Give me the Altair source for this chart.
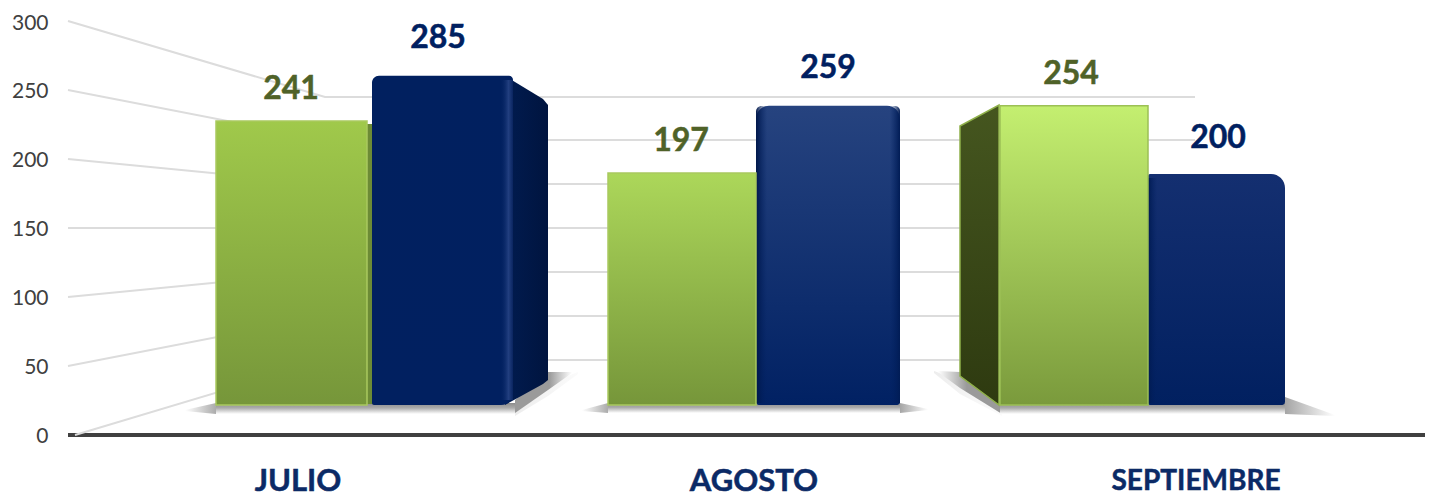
import altair as alt
import pandas as pd

# ---- chart values -------------------------------------------------------
MONTHS = ["JULIO", "AGOSTO", "SEPTIEMBRE"]
GREEN_VALUES = [241, 197, 254]
BLUE_VALUES = [285, 259, 200]
Y_TICKS = [0, 50, 100, 150, 200, 250, 300]
MONTH_CENTRES = [298, 754, 1196]
MONTH_SIZES = [31, 31, 28]

# ---- horizontal extents of the bars on the hidden x scale ---------------
GREEN_X0 = [216, 608, 1000]
GREEN_X1 = [367, 756, 1148]
BLUE_X0 = [372, 756, 1148]
BLUE_X1 = [513, 900, 1285]
GREEN_LABEL_X = [291, 681, 1071]
BLUE_LABEL_X = [438, 828, 1218]

GREEN_TOP = ["#A0C94B", "#ACD75A", "#C4EF70"]
GREEN_BOTTOM = ["#76963A", "#76963A", "#7A9A3C"]
GREEN_STROKE = ["#A9C95F", "#A9C95F", "#9CC055"]
BLUE_TOP = ["#01205F", "#26437F", "#142F70"]
BLUE_BOTTOM = ["#012060", "#012163", "#012060"]

# ---- decoration: perspective grid, floor shadows, side faces -------------
GRID_LEFT = [(75, 435), (68, 366), (68, 297), (68, 228), (68, 159), (68, 90), (68, 21)]
GRID_BACK = [360, 316, 272, 228, 184, 140, 97]
GRID_BEND_X = 325
GRID_END_X = 1195

SHADOWS = [
    # soft outer halos
    ([515, 548, 578], [405, 384, 372], [416, 396, 374], "halo"),
    ([934, 960, 1002], [371, 380, 405], [373, 394, 416], "halo"),
    # bands below the bars
    ([185, 216], [410, 403], [411, 414], "l"),
    ([216, 515], [403, 403], [414, 414], "v"),
    ([515, 548, 572], [400, 372, 372], [413, 390, 373], "r"),
    ([582, 608], [410, 403], [411, 413], "l"),
    ([608, 900], [403, 403], [413, 413], "v"),
    ([900, 928], [403, 409], [413, 410], "r2"),
    ([938, 960, 1002], [371, 372, 403], [372, 388, 414], "lm"),
    ([1000, 1285], [403, 403], [414, 414], "v"),
    ([1285, 1335], [397, 415], [414, 416], "r2"),
]
FACE_RIGHT_X = [505, 543, 548]
FACE_RIGHT_TOP = [76, 99, 105]
FACE_RIGHT_BOT = [405, 384, 380]
FACE_LEFT_X = [960, 999]
FACE_LEFT_TOP = [126, 105]
FACE_LEFT_BOT = [376, 405]

XS = alt.Scale(domain=[68, 1425], nice=False, zero=False)
PX = alt.Scale(domain=[435, 22], nice=False, zero=False)
VALUE = alt.Scale(domain=[0, 300], nice=False)
GREEN_SCALE = alt.Scale(domain=[-25.47, 325.1], nice=False, zero=False)
BLUE_SCALE = alt.Scale(domain=[-25.97, 331.6], nice=False, zero=False)


def grad(stops, vertical=True):
    d = dict(x1=0, x2=0, y1=0, y2=1) if vertical else dict(x1=0, x2=1, y1=0, y2=0)
    return alt.Gradient(gradient="linear",
                        stops=[alt.GradientStop(offset=o, color=c) for o, c in stops], **d)


def X(f="x"):
    return alt.X(f"{f}:Q", scale=XS, axis=None)


def Y(f="y", scale=PX):
    return alt.Y(f"{f}:Q", scale=scale, axis=None)


def rect(x0, x1, top, bot, scale=PX, **mark):
    df = pd.DataFrame({"x": [x0], "x2": [x1], "y": [top], "y2": [bot]})
    return alt.Chart(df).mark_bar(**mark).encode(
        x=X(), x2="x2:Q", y=Y(scale=scale), y2="y2:Q")


layers = []

# value axis and heavy baseline
base_df = pd.DataFrame({"x": [68], "x2": [1425], "y": [0]})
layers.append(alt.Chart(base_df).mark_rule(color="#404040", strokeWidth=4).encode(
    x=X(),
    x2="x2:Q",
    y=alt.Y("y:Q", scale=VALUE, title=None, axis=alt.Axis(
        values=Y_TICKS, domain=False, ticks=False, grid=False, labelFont="Lato",
        labelFontSize=21, labelColor="#404040", labelPadding=20, labelOffset=1)),
))

# perspective gridlines
for (lx, ly), by in zip(GRID_LEFT, GRID_BACK):
    g = pd.DataFrame({"x": [lx, GRID_BEND_X, GRID_END_X], "y": [ly, by, by]})
    layers.append(alt.Chart(g).mark_line(color="#DCDCDC", strokeWidth=2).encode(x=X(), y=Y()))

# floor shadows
FILLS = {
    "halo": grad([(0, "#EDEDED"), (1, "#FBFBFB")], vertical=False),
    "v": grad([(0, "#8C8C8C"), (0.45, "#ABABAB"), (1, "#FFFFFF")]),
    "l": grad([(0, "#FFFFFF"), (1, "#ABABAB")], vertical=False),
    "r": grad([(0, "#9A9A9A"), (0.6, "#9A9A9A"), (1, "#FFFFFF")], vertical=False),
    "r2": grad([(0, "#A5A5A5"), (1, "#FFFFFF")], vertical=False),
    "lm": grad([(0, "#FFFFFF"), (0.45, "#9A9A9A"), (1, "#9A9A9A")], vertical=False),
}
for xs, tops, bots, kind in SHADOWS:
    s = pd.DataFrame({"x": xs, "y": tops, "y2": bots})
    layers.append(alt.Chart(s).mark_area(color=FILLS[kind]).encode(x=X(), y=Y(), y2="y2:Q"))

# side faces
layers.append(rect(366, 373, 124, 404, color="#6C8B35"))
layers.append(alt.Chart(pd.DataFrame({"x": FACE_RIGHT_X, "y": FACE_RIGHT_TOP, "y2": FACE_RIGHT_BOT}))
              .mark_area(color=grad([(0, "#011C50"), (1, "#00143F")], vertical=False))
              .encode(x=X(), y=Y(), y2="y2:Q"))
layers.append(alt.Chart(pd.DataFrame({"x": FACE_LEFT_X, "y": FACE_LEFT_TOP, "y2": FACE_LEFT_BOT}))
              .mark_area(color=grad([(0, "#45561F"), (1, "#2E3A10")]),
                         stroke="#8FB04A", strokeWidth=1.5)
              .encode(x=X(), y=Y(), y2="y2:Q"))

# blue bars
blue_radius = [(7, 4, 2, 12), (13, 13, 3, 3), (2, 14, 2, 3)]
for i in range(3):
    tl, tr, bl, br = blue_radius[i]
    layers.append(rect(BLUE_X0[i], BLUE_X1[i], BLUE_VALUES[i], 0, scale=BLUE_SCALE,
                       color=grad([(0, BLUE_TOP[i]), (1, BLUE_BOTTOM[i])]),
                       cornerRadiusTopLeft=tl, cornerRadiusTopRight=tr,
                       cornerRadiusBottomLeft=bl, cornerRadiusBottomRight=br))

# bevels on the blue bars
layers.append(rect(500, 513, 80, 400, color=grad(
    [(0, "#01205F00"), (0.65, "#223F80"), (1, "#0A2560")], vertical=False)))
layers.append(rect(756, 767, 106, 403, cornerRadiusTopLeft=13, color=grad(
    [(0, "#00174A"), (1, "#01206000")], vertical=False)))
layers.append(rect(890, 900, 106, 403, cornerRadiusTopRight=13, color=grad(
    [(0, "#01206000"), (1, "#011C55")], vertical=False)))
layers.append(rect(1148, 1157, 178, 403, color=grad(
    [(0, "#011A50"), (1, "#01206000")], vertical=False)))

# green bars
for i in range(3):
    layers.append(rect(GREEN_X0[i], GREEN_X1[i], GREEN_VALUES[i], 0, scale=GREEN_SCALE,
                       color=grad([(0, GREEN_TOP[i]), (1, GREEN_BOTTOM[i])]),
                       stroke=GREEN_STROKE[i], strokeWidth=1.5))

# value labels
green_df = pd.DataFrame({"x": GREEN_LABEL_X, "y": GREEN_VALUES})
blue_df = pd.DataFrame({"x": BLUE_LABEL_X, "y": BLUE_VALUES})
bold = dict(font="Lato", fontWeight="bold", fontSize=32, baseline="middle", strokeWidth=0.5)
layers.append(alt.Chart(green_df).mark_text(color="#4F6228", stroke="#4F6228", dy=-32, **bold)
              .encode(x=X(), y=Y(scale=GREEN_SCALE), text="y:Q"))
layers.append(alt.Chart(blue_df.iloc[:2]).mark_text(color="#002060", stroke="#002060", dy=-38, **bold)
              .encode(x=X(), y=Y(scale=BLUE_SCALE), text="y:Q"))
layers.append(alt.Chart(blue_df.iloc[2:]).mark_text(color="#002060", stroke="#002060", dy=-36, **bold)
              .encode(x=X(), y=Y(scale=BLUE_SCALE), text="y:Q"))

# month labels
for cx, name, size in zip(MONTH_CENTRES, MONTHS, MONTH_SIZES):
    month_df = pd.DataFrame({"x": [cx], "m": [name]})
    layers.append(alt.Chart(month_df).mark_text(
        font="Lato", fontWeight="bold", fontSize=size, color="#0B2A66", stroke="#0B2A66",
        strokeWidth=0.5, baseline="middle"
    ).encode(x=X(), y=alt.value(460), text="m:N"))

chart = alt.layer(*layers).resolve_scale(y="independent").properties(
    width=1357, height=413,
    padding={"left": 60, "top": 14, "right": 0, "bottom": 66},
    autosize=alt.AutoSizeParams(type="none"),
    background="white",
).configure_view(stroke=None)

chart.save("out.html", embed_options={"renderer": "svg", "actions": False})
